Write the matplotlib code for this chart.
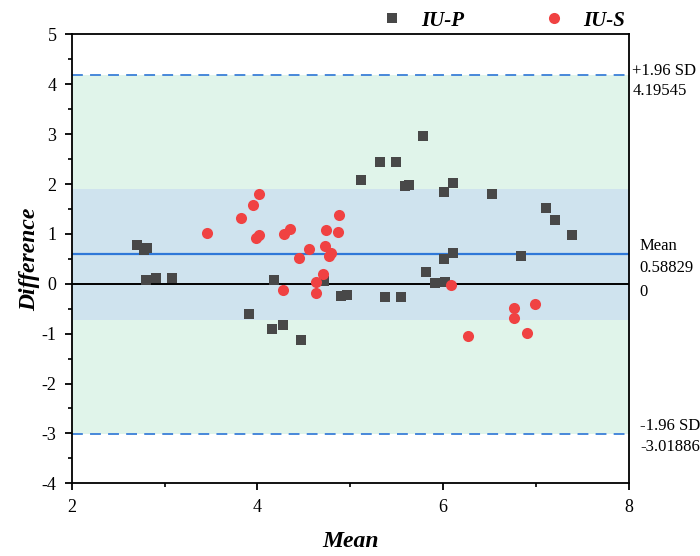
import matplotlib

matplotlib.use("Agg")
import matplotlib.pyplot as plt
from matplotlib.lines import Line2D
from matplotlib.ticker import MultipleLocator
from matplotlib.transforms import blended_transform_factory

plt.rcParams.update(
    {
        "font.family": ["Liberation Serif", "DejaVu Serif"],
        "font.size": 13,
        "axes.linewidth": 1.3,
        "axes.unicode_minus": False,
    }
)

# IU-P (squares)
p_mean = [2.70, 2.78, 2.81, 2.80, 2.91, 3.08, 3.91, 4.16, 4.18, 4.27, 4.47, 4.72,
          4.90, 4.96, 5.11, 5.32, 5.37, 5.49, 5.54, 5.59, 5.63, 5.78, 5.81, 5.91,
          6.01, 6.01, 6.02, 6.11, 6.11, 6.52, 6.84, 7.11, 7.20, 7.39]
p_diff = [0.77, 0.68, 0.72, 0.08, 0.12, 0.11, -0.60, -0.90, 0.07, -0.82, -1.12, 0.05,
          -0.24, -0.22, 2.09, 2.45, -0.26, 2.45, -0.26, 1.96, 1.98, 2.97, 0.23, 0.01,
          1.84, 0.50, 0.04, 2.03, 0.61, 1.80, 0.55, 1.52, 1.27, 0.98]

# IU-S (circles)
s_mean = [3.46, 3.82, 3.95, 4.02, 3.98, 4.02, 4.29, 4.35, 4.28, 4.45, 4.55, 4.63, 4.63,
          4.71, 4.73, 4.74, 4.77, 4.79, 4.87, 4.88, 6.08, 6.27, 6.76, 6.76, 6.90, 6.99]
s_diff = [1.01, 1.31, 1.58, 1.80, 0.92, 0.98, 1.00, 1.10, -0.13, 0.52, 0.70, 0.03, -0.18,
          0.20, 0.75, 1.08, 0.56, 0.62, 1.03, 1.37, -0.02, -1.04, -0.48, -0.69, -0.99, -0.41]

# agreement limits
mean_diff = 0.58829
upper_loa = 4.19545
lower_loa = -3.01886
inner_band = (-0.735, 1.90)

fig = plt.figure(figsize=(7.0, 5.56), dpi=100)
ax = fig.add_axes([0.1024, 0.1308, 0.7962, 0.8072])

ax.axhspan(lower_loa, upper_loa, color="#e0f4ea", zorder=0, lw=0)
ax.axhspan(inner_band[0], inner_band[1], color="#cfe3ee", zorder=0.5, lw=0)

ax.axhline(upper_loa, color="#3a7fd8", lw=1.3, ls=(0, (6, 4)), zorder=1)
ax.axhline(lower_loa, color="#3a7fd8", lw=1.3, ls=(0, (6, 4)), zorder=1)
ax.axhline(mean_diff, color="#2f78d8", lw=1.6, zorder=1)
ax.axhline(0, color="black", lw=1.4, zorder=1)

ax.plot(p_mean, p_diff, ls="none", marker="s", ms=7, color="#484848", mew=0, zorder=3)
ax.plot(s_mean, s_diff, ls="none", marker="o", ms=8, color="#f04242", mew=0, zorder=3)

ax.set_xlim(2, 8)
ax.set_ylim(-4, 5)
ax.xaxis.set_major_locator(MultipleLocator(2))
ax.xaxis.set_minor_locator(MultipleLocator(1))
ax.yaxis.set_major_locator(MultipleLocator(1))
ax.yaxis.set_minor_locator(MultipleLocator(0.5))
ax.tick_params(which="major", direction="out", length=5, width=1.3, pad=6)
ax.tick_params(which="minor", direction="out", length=3, width=1.2)
ax.tick_params(top=False, right=False, which="both")

ax.set_xlabel("Mean", fontsize=17, fontweight="bold", fontstyle="italic", labelpad=11)
ax.set_ylabel("Difference", fontsize=17, fontweight="bold", fontstyle="italic", labelpad=1)

# right-hand labels: (text, y value, x offset pt, y offset pt)
tr = blended_transform_factory(ax.transAxes, ax.transData)
right_labels = [
    ("+1.96 SD", upper_loa, 2.4, 0.0),
    ("4.19545", upper_loa, 2.4, -14.4),
    ("Mean", mean_diff, 7.4, 2.9),
    ("0.58829", mean_diff, 7.4, -12.5),
    ("0", 0.0, 7.4, -8.6),
    ("-1.96 SD", lower_loa, 7.9, 2.8),
    ("-3.01886", lower_loa, 7.9, -11.8),
]
for txt, yv, dx, dy in right_labels:
    ax.annotate(txt, xy=(1.0, yv), xycoords=tr, xytext=(dx, dy),
                textcoords="offset points", ha="left", va="baseline",
                fontsize=12, annotation_clip=False)

handles = [
    Line2D([], [], ls="none", marker="s", ms=7, color="#484848", mew=0),
    Line2D([], [], ls="none", marker="o", ms=8, color="#f04242", mew=0),
]
ax.legend(handles, ["IU-P", "IU-S"], loc="lower right", bbox_to_anchor=(1.012, 0.985),
          ncol=2, frameon=False, columnspacing=3.3, handletextpad=0.4,
          borderaxespad=0.1, prop={"size": 15, "weight": "bold", "style": "italic"})

fig.savefig("out.png", dpi=100)
